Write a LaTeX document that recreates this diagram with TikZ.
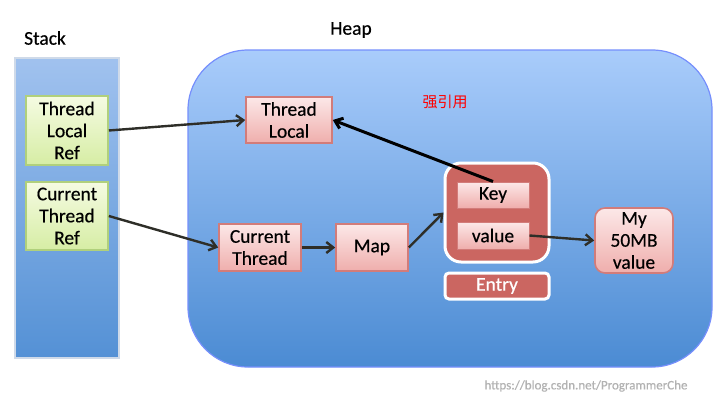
\documentclass[tikz,border=0pt]{standalone}
\usepackage{fontspec}
\setmainfont{Carlito}[FakeBold=0.4]
\newfontfamily\cjk{Noto Sans CJK SC}
\usetikzlibrary{arrows.meta}
\definecolor{heaptop}{HTML}{A9CCFB}
\definecolor{heapbot}{HTML}{4B8BD3}
\definecolor{greentop}{HTML}{F5FBE2}
\definecolor{greenbot}{HTML}{D6EDA4}
\definecolor{greenline}{HTML}{B0D07C}
\definecolor{pinktop}{HTML}{FCE8E8}
\definecolor{pinkbot}{HTML}{EFAEAC}
\definecolor{pinkline}{HTML}{D27C7A}
\definecolor{entryred}{HTML}{CB6661}
\definecolor{arrowgray}{HTML}{2E2E28}
\tikzset{
  refbox/.style={draw=greenline, line width=1.6pt, top color=greentop, bottom color=greenbot,
    minimum width=82, minimum height=68, inner sep=0pt, align=center},
  objbox/.style={draw=pinkline, line width=1.6pt, top color=pinktop, bottom color=pinkbot,
    minimum height=47, inner sep=0pt, align=center},
  entrybox/.style={draw=white, line width=3pt, fill=entryred, inner sep=0pt},
  link/.style={draw=arrowgray, line width=2.4pt, -{Straight Barb[length=7pt,width=11pt]}}
}
\begin{document}
\begin{tikzpicture}[x=1pt, y=-1pt, font=\fontsize{19.5}{22}\selectfont]
\useasboundingbox[fill=white] (0,0) rectangle (728,407);
% stack and heap areas
\node (stacklabel) at (45,38) {Stack};
\draw[draw=heaptop!80!black!40, line width=1.2pt, top color=heaptop!95!black, bottom color=heapbot!95!white] (15,58) rectangle (119,358);
\node (heaplabel) at (351,30) {Heap};
\draw[draw=heaptop!70!blue, line width=1.2pt, top color=heaptop, bottom color=heapbot, rounded corners=60] (188,50) rectangle (712,367);
\node[text=red, font=\cjk\fontsize{15}{17}\selectfont] (strong) at (445,102) {强引用};
%% stack refs
\node[refbox, minimum height=69] (tlref) at (67,130.5) {Thread\\Local\\Ref};
\node[refbox] (ctref) at (67,216) {Current\\Thread\\Ref};
%% heap objects
\node[objbox, minimum width=86, minimum height=46] (threadlocal) at (289,120) {Thread\\Local};
\node[objbox, minimum width=82] (curthread) at (260,247.5) {Current\\Thread};
\node[objbox, minimum width=72] (map) at (372,247.5) {Map};
\node[entrybox, rounded corners=16, minimum width=104, minimum height=99] (entry) at (497,212.5) {};
\node[objbox, minimum width=72, minimum height=26, line width=1pt] (key) at (493,195) {Key};
\node[objbox, minimum width=72, minimum height=27, line width=1pt] (value) at (493,235.5) {value};
\node[entrybox, rounded corners=4, minimum width=104, minimum height=26, text=white] (entrylabel) at (497,286) {Entry};
\node[objbox, rounded corners=10, minimum width=78, minimum height=65] (bigvalue) at (634,240.5) {My\\50MB\\value};
%% references
\draw[link] (tlref.east) -- (threadlocal.west);
\draw[link] (ctref.east) -- (curthread.west);
\draw[link] (curthread.east) -- (map.east -| map.west);
\draw[link] (map.east) -- (entry.west);
\draw[link] (value.east) -- (bigvalue.west);
\draw[link, draw=black, line width=3pt] (key.north) -- (threadlocal.east);
\node[text=black!30, font=\fontsize{13}{15}\selectfont] (mark) at (586,386) {https://blog.csdn.net/ProgrammerChe};
\end{tikzpicture}
\end{document}
